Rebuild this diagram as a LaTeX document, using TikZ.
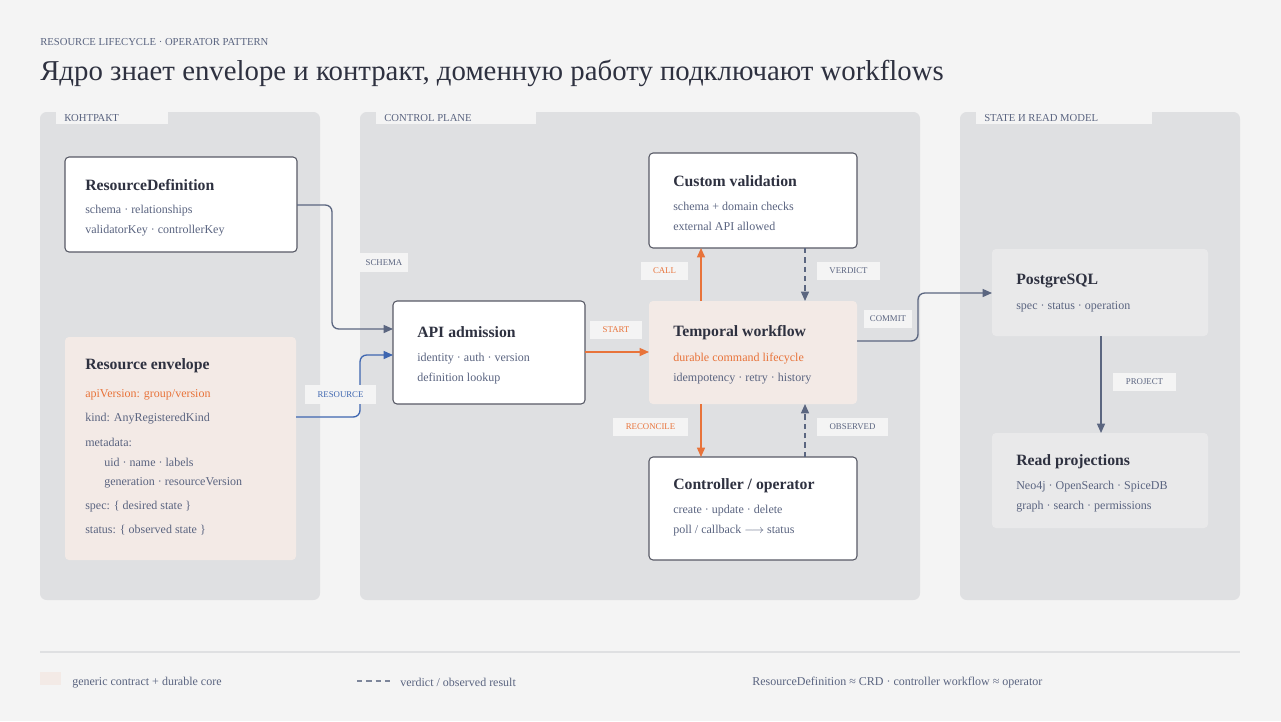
\documentclass[tikz,border=0pt]{standalone}
\usepackage{fontspec}
\setmainfont{Liberation Serif}
\usetikzlibrary{arrows.meta}
\definecolor{bg}{HTML}{F4F4F4}
\definecolor{panel}{HTML}{DFE0E2}
\definecolor{ink}{HTML}{2E3140}
\definecolor{muted}{HTML}{5A6480}
\definecolor{edge}{HTML}{5B6680}
\definecolor{blu}{HTML}{3E66B0}
\definecolor{org}{HTML}{E8733A}
\definecolor{beige}{HTML}{F3EAE6}
\definecolor{pg}{HTML}{E9E9EA}
\begin{document}
\begin{tikzpicture}[x=0.75pt,y=-0.75pt,
  panelbox/.style={fill=panel,rounded corners=5pt},
  card/.style={fill=white,draw=ink!80,line width=0.8pt,rounded corners=3pt},
  soft/.style={fill=beige,rounded corners=3pt},
  gray/.style={fill=pg,rounded corners=3pt},
  ttl/.style={anchor=west,text=ink,font=\fontsize{11.8}{13}\selectfont\bfseries,inner sep=0pt,yshift=-1pt},
  txt/.style={anchor=west,text=muted,font=\fontsize{9}{10}\selectfont,inner sep=0pt,yshift=-1pt},
  tabt/.style={anchor=west,inner sep=0pt,text=muted,font=\fontsize{8}{9}\selectfont,yshift=-0.5pt},
  lab/.style={fill=bg,inner sep=0pt,font=\fontsize{6.6}{7}\selectfont,text=muted},
  arr/.style={-{Triangle[length=7pt,width=6pt]},line width=1pt,rounded corners=5pt},
]
\useasboundingbox (0,0) rectangle (1281,721);
\fill[bg] (0,0) rectangle (1281,721);
\node[anchor=west,inner sep=0pt,text=muted,font=\fontsize{8}{9}\selectfont,yshift=-0.5pt] (sub) at (40,41) {RESOURCE LIFECYCLE · OPERATOR PATTERN};
\node[anchor=west,inner sep=0pt,text=ink,font=\fontsize{21.6}{24}\selectfont,yshift=-1pt] (title) at (40,72) {Ядро знает envelope и контракт, доменную работу подключают workflows};
% panels
\fill[panelbox] (40,112) rectangle (320,600);
\fill[panelbox] (360,112) rectangle (920,600);
\fill[panelbox] (960,112) rectangle (1240,600);
\fill[bg] (56,112) rectangle (168,124);
\fill[bg] (376,112) rectangle (536,124);
\fill[bg] (976,112) rectangle (1152,124);
\node[tabt] (t1) at (64,117.5) {КОНТРАКТ};
\node[tabt] (t2) at (384,117.5) {CONTROL PLANE};
\node[tabt] (t3) at (984,117.5) {STATE И READ MODEL};
% cards
\draw[card] (65,157) rectangle (297,252);
\coordinate (rd) at (297,205);
\node[ttl] at (85,184) {ResourceDefinition};
\node[txt] at (85,209) {schema · relationships};
\node[txt] at (85,229) {validatorKey · controllerKey};

\fill[soft] (65,337) rectangle (296,560);
\coordinate (env) at (296,417);
\node[ttl] at (85,364) {Resource envelope};
\node[txt,text=org] at (85,393) {apiVersion: group/version};
\node[txt] at (85,417) {kind: AnyRegisteredKind};
\node[txt] at (85,441) {metadata:};
\node[txt] at (104,461) {uid · name · labels};
\node[txt] at (104,481) {generation · resourceVersion};
\node[txt] at (85,505) {spec: \{ desired state \}};
\node[txt] at (85,529) {status: \{ observed state \}};

\draw[card] (393,301) rectangle (585,404);
\node[ttl] at (417,331) {API admission};
\node[txt] at (417,357) {identity · auth · version};
\node[txt] at (417,377) {definition lookup};

\draw[card] (649,153) rectangle (857,248);
\node[ttl] at (673,180) {Custom validation};
\node[txt] at (673,205) {schema + domain checks};
\node[txt] at (673,225) {external API allowed};

\fill[soft] (649,301) rectangle (857,404);
\node[ttl] at (673,331) {Temporal workflow};
\node[txt,text=org] at (673,357) {durable command lifecycle};
\node[txt] at (673,377) {idempotency · retry · history};

\draw[card] (649,457) rectangle (857,560);
\node[ttl] at (673,484) {Controller / operator};
\node[txt] at (673,509) {create · update · delete};
\node[txt] at (673,529) {poll / callback $\longrightarrow$ status};

\fill[gray] (992,249) rectangle (1208,336);
\node[ttl] at (1016,280) {PostgreSQL};
\node[txt] at (1016,305) {spec · status · operation};

\fill[gray] (992,433) rectangle (1208,528);
\node[ttl] at (1016,460) {Read projections};
\node[txt] at (1016,485) {Neo4j · OpenSearch · SpiceDB};
\node[txt] at (1016,505) {graph · search · permissions};

% connectors
\draw[arr,edge] (rd) -- (332,205) -- (332,329) -- (393,329);
\draw[arr,blu] (env) -- (360,417) -- (360,355) -- (393,355);
\draw[arr,org] (585,352) -- (649,352);
\draw[arr,org] (701,301) -- (701,248);
\draw[arr,org] (701,404) -- (701,457);
\draw[arr,edge,dash pattern=on 4pt off 3pt] (805,248) -- (805,301);
\draw[arr,edge,dash pattern=on 4pt off 3pt] (805,457) -- (805,404);
\draw[arr,edge] (857,341) -- (918,341) -- (918,293) -- (992,293);
\draw[arr,edge] (1101,336) -- (1101,433);
% labels
\node[lab,minimum width=36pt,minimum height=14pt] at (384,262.5) {SCHEMA};
\node[lab,text=blu,minimum width=53pt,minimum height=14pt] at (340.5,394.5) {RESOURCE};
\node[lab,text=org,minimum width=39pt,minimum height=14pt] at (616,330) {START};
\node[lab,text=org,minimum width=35pt,minimum height=13.5pt] at (664.5,271) {CALL};
\node[lab,minimum width=47pt,minimum height=13.5pt] at (848.5,271) {VERDICT};
\node[lab,text=org,minimum width=56pt,minimum height=13.5pt] at (650.5,427) {RECONCILE};
\node[lab,minimum width=53pt,minimum height=13.5pt] at (852.5,427) {OBSERVED};
\node[lab,minimum width=36pt,minimum height=13.5pt] at (888,319) {COMMIT};
\node[lab,minimum width=47pt,minimum height=13.5pt] at (1144.5,382) {PROJECT};
% legend
\draw[panel,line width=0.8pt] (40,652) -- (1240,652);
\fill[beige] (40,672) rectangle (61,685);
\node[txt] at (72,681) {generic contract + durable core};
\draw[edge!80,line width=1pt,dash pattern=on 4pt off 3pt] (357,681) -- (390,681);
\node[txt] at (400,681) {verdict / observed result};
\node[txt] at (752,681) {ResourceDefinition ≈ CRD · controller workflow ≈ operator};
\end{tikzpicture}
\end{document}
